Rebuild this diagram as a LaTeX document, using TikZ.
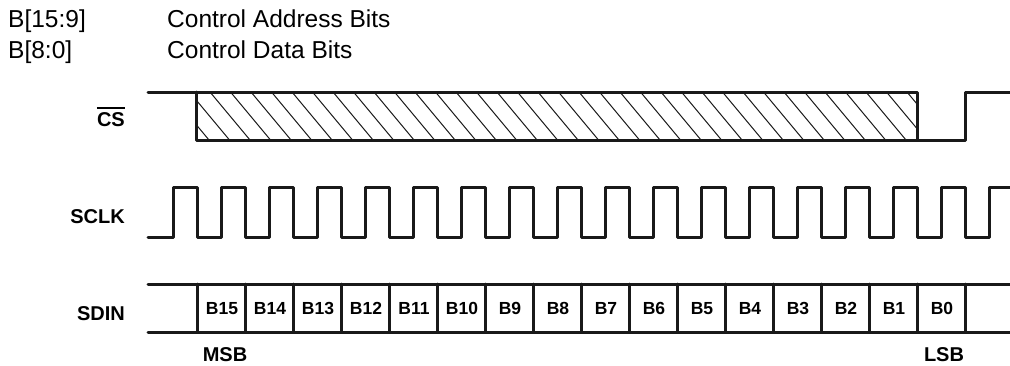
\documentclass[tikz,border=0pt]{standalone}
\usepackage{fontspec}
\setmainfont{Liberation Sans}
\begin{document}
\begin{tikzpicture}[x=1pt,y=-1pt,
  wave/.style={line width=3pt, line join=round, line cap=round, draw=black!90},
  hatchline/.style={line width=1pt, draw=black!90},
  hdr/.style={font=\fontsize{24.5}{28}\selectfont, inner sep=0pt, anchor=base west},
  siglabel/.style={font=\fontsize{20}{24}\selectfont\bfseries, inner sep=0pt, anchor=base east},
  bitlabel/.style={font=\fontsize{17.5}{21}\selectfont\bfseries, inner sep=0pt, anchor=base},
  ]
\useasboundingbox (0,0) rectangle (1010,365);
% header
\node[hdr] (h1) at (8,27) {B[15:9]};
\node[hdr] (h1t) at (167,27) {Control Address Bits};
\node[hdr] (h2) at (8,58) {B[8:0]};
\node[hdr] (h2t) at (167,58) {Control Data Bits};
% signal labels
\node[siglabel] (cs) at (125,126) {CS};
\draw[line width=2.2pt] ([yshift=4pt]cs.north west) -- ([yshift=4pt]cs.north east);
\node[siglabel] (sclk) at (125,223) {SCLK};
\node[siglabel] (sdin) at (125,320) {SDIN};
% CS waveform
\begin{scope}
  \clip (196,92) rectangle (917,140);
  \foreach \i in {0,...,37} \draw[hatchline] (169+\i*20.5,92) -- ++(40,48);
\end{scope}
\draw[wave] (148,92) -- (917,92) -- (917,140) -- (196,140) -- (196,92);
\draw[wave] (917,140) -- (965,140) -- (965,92) -- (1012,92);
% SCLK waveform
\draw[wave] (148,237) foreach \k in {0,...,16} { -- (173+48*\k,237) -- (173+48*\k,187) -- (197+48*\k,187) -- (197+48*\k,237) } -- (989,237) -- (989,187) -- (1012,187);
% SDIN
\draw[wave] (148,284) -- (1012,284);
\draw[wave] (148,332) -- (1012,332);
\foreach \k in {0,...,16} \draw[wave] (197+48*\k,284) -- ++(0,48);
\foreach \t [count=\k from 0] in {B15,B14,B13,B12,B11,B10,B9,B8,B7,B6,B5,B4,B3,B2,B1,B0}
  \node[bitlabel] (bit\k) at (222+48*\k,314.5) {\t};
\node[siglabel, anchor=base] (msb) at (225,361) {MSB};
\node[siglabel, anchor=base] (lsb) at (944,361) {LSB};
\end{tikzpicture}
\end{document}
